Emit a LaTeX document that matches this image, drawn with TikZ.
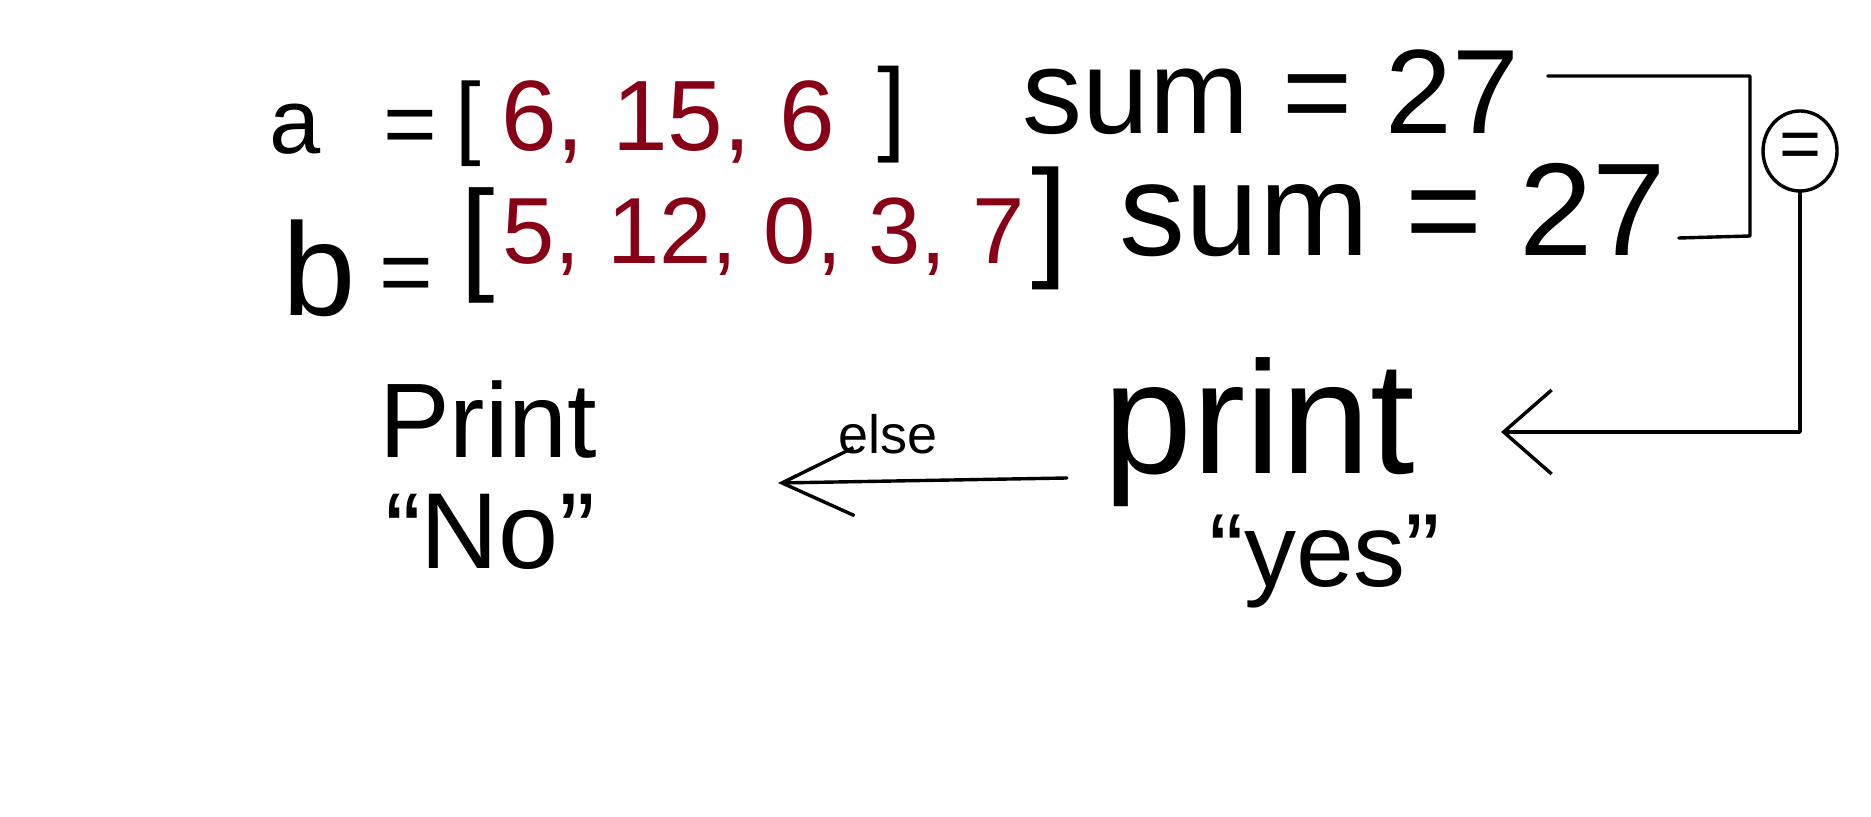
\documentclass[tikz,border=0pt]{standalone}
\usepackage{fontspec}
\setmainfont{Liberation Sans}
\usetikzlibrary{arrows.meta,shapes.geometric}
\definecolor{dred}{HTML}{880015}
\newcommand{\fsz}[1]{\fontsize{#1}{#1}\selectfont}
\begin{document}
\begin{tikzpicture}[x=0.5pt,y=-0.5pt,
  txt/.style={inner sep=0pt,text=black},
  val/.style={inner sep=0pt,text=dred},
  conn/.style={line width=1.7pt,draw=black,line cap=round,line join=round},
  arryes/.style={conn,-{Straight Barb[length=24pt,width=42pt]}},
  arrelse/.style={conn,-{Straight Barb[length=36pt,width=34pt]}},
]
\fill[white] (0,0) rectangle (1871,817);
\useasboundingbox (0,0) rectangle (1871,817);

\node[txt,font=\fsz{46}] (a) at (295,129) {a};
\node[txt,font=\fsz{46}] (eqa) at (410,133) {=};
\node[txt,font=\fsz{46}] (lba) at (468,124) {[};
\node[val,font=\fsz{50}] (vala) at (668,122) {6, 15, 6};
\node[txt,font=\fsz{52}] (rba) at (892,115) {]};
\node[txt,font=\fsz{60}] (suma) at (1271,92) {sum = 27};

\node[txt,font=\fsz{66}] (b) at (319,268) {b};
\node[txt,font=\fsz{46}] (eqb) at (406,281) {=};
\node[txt,font=\fsz{62}] (lbb) at (478,245) {[};
\node[val,font=\fsz{47}] (valb) at (764,237) {5, 12, 0, 3, 7};
\node[txt,font=\fsz{66}] (rbb) at (1050,228) {]};
\node[txt,font=\fsz{66}] (sumb) at (1393,210) {sum = 27};

\node[conn,ellipse,minimum width=37pt,minimum height=40pt,inner sep=0pt,font=\fsz{36}] (eq) at (1800,151) {=};

\node[txt,font=\fsz{80}] (pyes) at (1259,432) {print};
\node[txt,font=\fsz{52}] (yes) at (1325,562) {“yes”};
\node[txt,font=\fsz{27}] (else) at (888,434) {else};
\node[txt,font=\fsz{53}] (pno) at (488,420) {Print};
\node[txt,font=\fsz{54}] (no) at (490,532) {“No”};

\coordinate (bb) at (1750,236);
\coordinate (elsetip) at (778,483);

\draw[conn] ([xshift=14pt,yshift=8pt]suma.east) -| (bb) -- ([xshift=6pt,yshift=-14pt]sumb.east);
\draw[arryes,shorten >=43pt] (eq.south) |- (pyes.east);
\draw[arrelse] ([xshift=-18pt,yshift=-23pt]pyes.west) -- (elsetip);
\end{tikzpicture}
\end{document}
